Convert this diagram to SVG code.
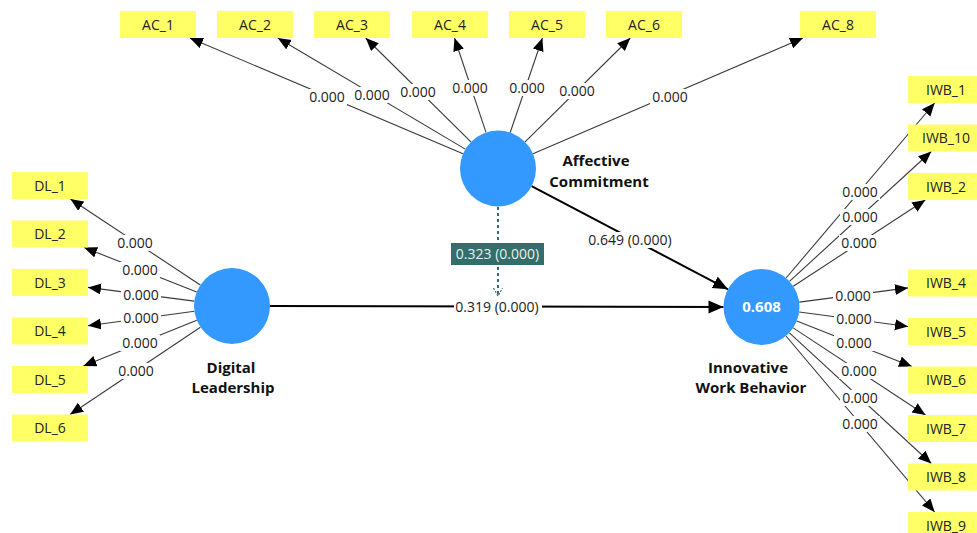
<svg xmlns="http://www.w3.org/2000/svg" width="977" height="533" viewBox="0 0 977 533">
<defs>
<style>
.ind rect{fill:#ffff66}
.ind text,.lbl{font-family:"Open Sans","Liberation Sans",sans-serif;font-size:14px;fill:#222;text-anchor:middle}
.lv circle{fill:#3399ff}
.nm{font-family:"Open Sans","Liberation Sans",sans-serif;font-size:15px;font-weight:bold;fill:#111;text-anchor:middle}
.m{stroke:#3a3a3a;stroke-width:1.1;fill:none;marker-end:url(#ah)}
.s{stroke:#000;stroke-width:2;fill:none;marker-end:url(#ahb)}
.bg{fill:#fff}
</style>
<marker id="ah" markerUnits="userSpaceOnUse" markerWidth="14" markerHeight="12" refX="13" refY="5.5" orient="auto"><path d="M0,0 L13,5.5 L0,11 z" fill="#000"/></marker>
<marker id="ahb" markerUnits="userSpaceOnUse" markerWidth="16" markerHeight="14" refX="15" refY="6.5" orient="auto"><path d="M0,0 L15,6.5 L0,13 z" fill="#000"/></marker>
</defs>
<rect width="977" height="533" fill="#fff"/>
<g id="connectors">
<path class="m" d="M463,153.7 L189.9,38"/>
<path class="m" d="M465.3,149.1 L277.8,38"/>
<path class="m" d="M470.9,141.8 L365.7,38"/>
<path class="m" d="M486,132.4 L454.5,38"/>
<path class="m" d="M510.2,132.5 L542.4,38"/>
<path class="m" d="M525.1,141.8 L630.3,38"/>
<path class="m" d="M533,153.7 L803,38"/>
<path class="m" d="M200.3,285 L70.4,199"/>
<path class="m" d="M196.7,292 L84.1,247.5"/>
<path class="m" d="M194.3,301.1 L88,287.4"/>
<path class="m" d="M194.4,311.2 L88,325.8"/>
<path class="m" d="M196.8,320.2 L83.4,366"/>
<path class="m" d="M200.4,327.2 L70.1,414.5"/>
<path class="m" d="M786.1,278 L934.6,103"/>
<path class="m" d="M789.5,281.3 L931.3,151.5"/>
<path class="m" d="M793.3,286.2 L925.3,200"/>
<path class="m" d="M799.2,302.1 L908,287.9"/>
<path class="m" d="M799.2,312 L908,326.5"/>
<path class="m" d="M796.8,321 L911.9,366.5"/>
<path class="m" d="M793.2,327.9 L925.5,415"/>
<path class="m" d="M789.4,332.8 L931.3,463.5"/>
<path class="m" d="M786,336 L934.6,512"/>
<path class="s" d="M270,306 L723.5,307"/>
<path class="s" d="M531.6,186.2 L728,289.3"/>
<path d="M498,207 L498,294" stroke="#2f6e6c" stroke-width="2" stroke-dasharray="3,3" fill="none"/>
<path d="M493.5,288 L498,296 L502.5,288" stroke="#2f6e6c" stroke-width="1.2" stroke-dasharray="2,1.5" fill="none"/>
<g id="labels">
<rect class="bg" x="307" y="89" width="40" height="16"/><text class="lbl" x="327" y="102">0.000</text>
<rect class="bg" x="352" y="87" width="40" height="16"/><text class="lbl" x="372" y="100">0.000</text>
<rect class="bg" x="398" y="84" width="40" height="16"/><text class="lbl" x="418" y="97">0.000</text>
<rect class="bg" x="450" y="80" width="40" height="16"/><text class="lbl" x="470" y="93">0.000</text>
<rect class="bg" x="507" y="80" width="40" height="16"/><text class="lbl" x="527" y="93">0.000</text>
<rect class="bg" x="557" y="83" width="40" height="16"/><text class="lbl" x="577" y="96">0.000</text>
<rect class="bg" x="650" y="89" width="40" height="16"/><text class="lbl" x="670" y="102">0.000</text>
<rect class="bg" x="115" y="235" width="40" height="16"/><text class="lbl" x="135" y="248">0.000</text>
<rect class="bg" x="120" y="262" width="40" height="16"/><text class="lbl" x="140" y="275">0.000</text>
<rect class="bg" x="121" y="287" width="40" height="16"/><text class="lbl" x="141" y="300">0.000</text>
<rect class="bg" x="121" y="310" width="40" height="16"/><text class="lbl" x="141" y="323">0.000</text>
<rect class="bg" x="120" y="335" width="40" height="16"/><text class="lbl" x="140" y="348">0.000</text>
<rect class="bg" x="116" y="363" width="40" height="16"/><text class="lbl" x="136" y="376">0.000</text>
<rect class="bg" x="840" y="184" width="40" height="16"/><text class="lbl" x="860" y="197">0.000</text>
<rect class="bg" x="840" y="209" width="40" height="16"/><text class="lbl" x="860" y="222">0.000</text>
<rect class="bg" x="839" y="235" width="40" height="16"/><text class="lbl" x="859" y="248">0.000</text>
<rect class="bg" x="833" y="288" width="40" height="16"/><text class="lbl" x="853" y="301">0.000</text>
<rect class="bg" x="834" y="311" width="40" height="16"/><text class="lbl" x="854" y="324">0.000</text>
<rect class="bg" x="834" y="335" width="40" height="16"/><text class="lbl" x="854" y="348">0.000</text>
<rect class="bg" x="839" y="363" width="40" height="16"/><text class="lbl" x="859" y="376">0.000</text>
<rect class="bg" x="840" y="390" width="40" height="16"/><text class="lbl" x="860" y="403">0.000</text>
<rect class="bg" x="840" y="416" width="40" height="16"/><text class="lbl" x="860" y="429">0.000</text>
<rect class="bg" x="454" y="299" width="88" height="16"/><text class="lbl" x="497" y="312">0.319 (0.000)</text>
<rect class="bg" x="586" y="232" width="88" height="16"/><text class="lbl" x="630" y="245">0.649 (0.000)</text>
<rect x="451" y="243" width="93" height="22" fill="#336e6b"/><text class="lbl" x="497.5" y="259" style="fill:#e6f0ee">0.323 (0.000)</text>
</g>
</g>
<g id="AC_1" class="ind"><rect x="120" y="11" width="76" height="27"/><text x="158" y="29.5">AC_1</text></g>
<g id="AC_2" class="ind"><rect x="217" y="11" width="76" height="27"/><text x="255" y="29.5">AC_2</text></g>
<g id="AC_3" class="ind"><rect x="314" y="11" width="76" height="27"/><text x="352" y="29.5">AC_3</text></g>
<g id="AC_4" class="ind"><rect x="412" y="11" width="76" height="27"/><text x="450" y="29.5">AC_4</text></g>
<g id="AC_5" class="ind"><rect x="509" y="11" width="76" height="27"/><text x="547" y="29.5">AC_5</text></g>
<g id="AC_6" class="ind"><rect x="606" y="11" width="76" height="27"/><text x="644" y="29.5">AC_6</text></g>
<g id="AC_8" class="ind"><rect x="800" y="11" width="76" height="27"/><text x="838" y="29.5">AC_8</text></g>
<g id="DL_1" class="ind"><rect x="12" y="172" width="76" height="27"/><text x="50" y="190.5">DL_1</text></g>
<g id="DL_2" class="ind"><rect x="12" y="220.5" width="76" height="27"/><text x="50" y="239">DL_2</text></g>
<g id="DL_3" class="ind"><rect x="12" y="269" width="76" height="27"/><text x="50" y="287.5">DL_3</text></g>
<g id="DL_4" class="ind"><rect x="12" y="317.5" width="76" height="27"/><text x="50" y="336">DL_4</text></g>
<g id="DL_5" class="ind"><rect x="12" y="366" width="76" height="27"/><text x="50" y="384.5">DL_5</text></g>
<g id="DL_6" class="ind"><rect x="12" y="414.5" width="76" height="27"/><text x="50" y="433">DL_6</text></g>
<g id="IWB_1" class="ind"><rect x="908" y="76" width="76" height="27"/><text x="946" y="94.5">IWB_1</text></g>
<g id="IWB_10" class="ind"><rect x="908" y="124.5" width="76" height="27"/><text x="946" y="143">IWB_10</text></g>
<g id="IWB_2" class="ind"><rect x="908" y="173" width="76" height="27"/><text x="946" y="191.5">IWB_2</text></g>
<g id="IWB_4" class="ind"><rect x="908" y="269.5" width="76" height="27"/><text x="946" y="288">IWB_4</text></g>
<g id="IWB_5" class="ind"><rect x="908" y="318" width="76" height="27"/><text x="946" y="336.5">IWB_5</text></g>
<g id="IWB_6" class="ind"><rect x="908" y="366.5" width="76" height="27"/><text x="946" y="385">IWB_6</text></g>
<g id="IWB_7" class="ind"><rect x="908" y="415" width="76" height="27"/><text x="946" y="433.5">IWB_7</text></g>
<g id="IWB_8" class="ind"><rect x="908" y="463.5" width="76" height="27"/><text x="946" y="482">IWB_8</text></g>
<g id="IWB_9" class="ind"><rect x="908" y="512" width="76" height="27"/><text x="946" y="530.5">IWB_9</text></g>
<g id="AffectiveCommitment" class="lv"><circle cx="498" cy="168.5" r="38"/><text class="nm" x="596" y="166">Affective</text><text class="nm" x="599" y="187">Commitment</text></g>
<g id="DigitalLeadership" class="lv"><circle cx="232" cy="306" r="38"/><text class="nm" x="231" y="373">Digital</text><text class="nm" x="233" y="393">Leadership</text></g>
<g id="InnovativeWorkBehavior" class="lv"><circle cx="761.5" cy="307" r="38"/><text class="nm" x="761.5" y="312" style="fill:#fff">0.608</text><text class="nm" x="748" y="373">Innovative</text><text class="nm" x="751" y="393">Work Behavior</text></g>
</svg>
